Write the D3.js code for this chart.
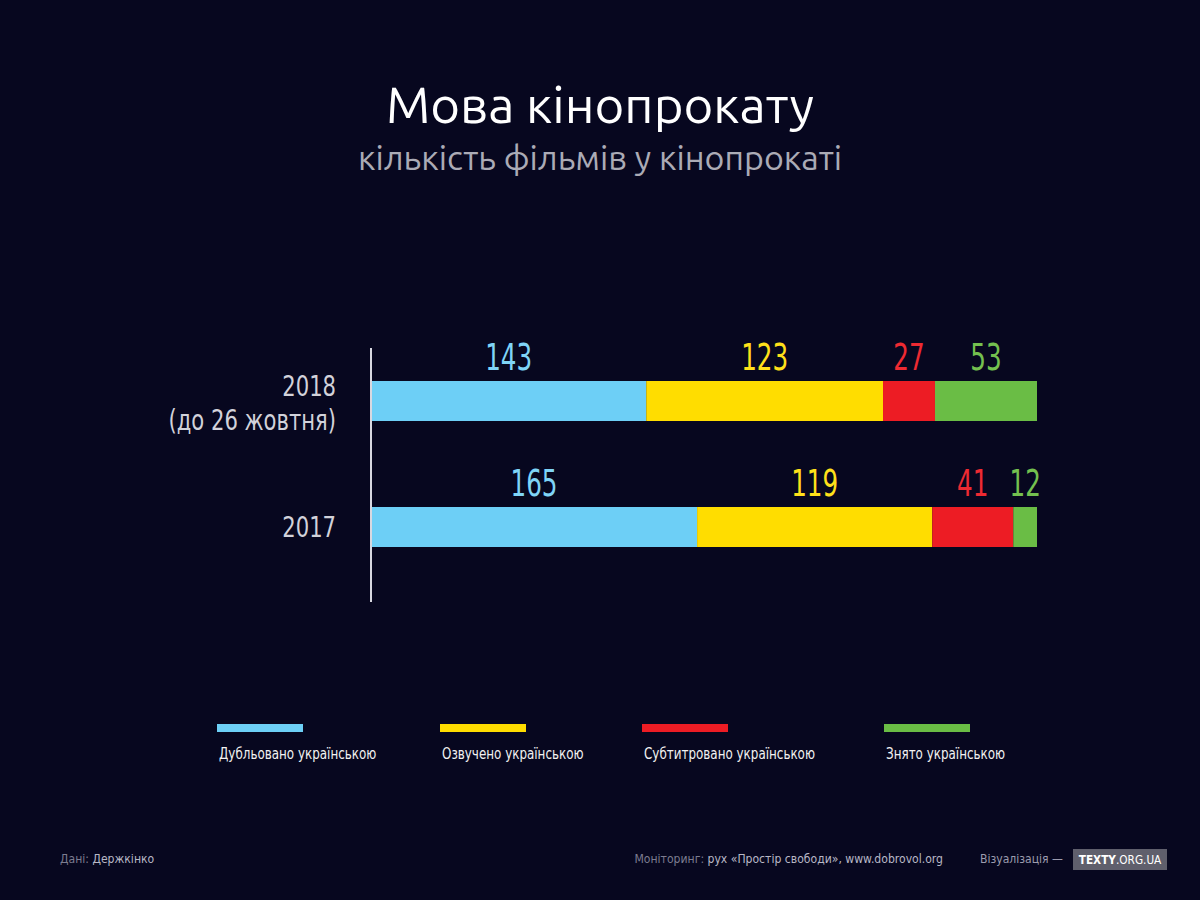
<!DOCTYPE html>
<html>
<head>
<meta charset="utf-8">
<script src="https://cdn.jsdelivr.net/npm/d3@7"></script>
<style>
  html, body { margin: 0; padding: 0; background: #07071f; }
  svg { display: block; }
</style>
</head>
<body>
<div id="chart"></div>
<script>
// Data
const years = ["2018", "2017"];
const yearNotes = ["(до 26 жовтня)", ""];
const seriesKeys = ["dub", "voice", "subs", "shot"];
const seriesNames = ["Дубльовано українською", "Озвучено українською", "Субтитровано українською", "Знято українською"];
const dubbed = [143, 165];
const voiced = [123, 119];
const subtitled = [27, 41];
const shot = [53, 12];

const colors = ["#6dcff6", "#ffdd00", "#ed1c24", "#6abd45"];
const labelColors = ["#7fd4f7", "#ffe01a", "#ee2a32", "#74c04f"];

const W = 1200, H = 900;
const condensed = "'DejaVu Sans Condensed', 'DejaVu Sans', sans-serif";
const sans = "Ubuntu, 'Noto Sans', 'Open Sans', sans-serif";

const rows = years.map((y, i) => ({
  year: y, note: yearNotes[i],
  dub: dubbed[i], voice: voiced[i], subs: subtitled[i], shot: shot[i]
}));

const svg = d3.select("#chart").append("svg")
  .attr("width", W).attr("height", H);

svg.append("rect").attr("width", W).attr("height", H).attr("fill", "#07071f");

//Squeezed text, the original uses a condensed face
function narrowText(sel, xf, yf, sx) {
  return sel.append("g")
    .attr("transform", (d, i) => `translate(${xf(d, i)},${yf(d, i)}) scale(${sx},1)`)
    .append("text")
    .style("font-family", condensed);
}

//Title
svg.append("text").attr("x", 600).attr("y", 123)
  .attr("text-anchor", "middle").attr("fill", "#ffffff")
  .style("font-family", sans).style("font-size", "51px")
  .text("Мова кінопрокату");
svg.append("text").attr("x", 600).attr("y", 170)
  .attr("text-anchor", "middle").attr("fill", "#ababb6")
  .style("font-family", sans).style("font-size", "34px")
  .text("кількість фільмів у кінопрокаті");

//Scales
const x = d3.scaleLinear().domain([0, 1]).range([371, 1037]);
const y = d3.scalePoint().domain(years).range([401, 527]);
const barH = 40;

const stacked = d3.stack().keys(seriesKeys).offset(d3.stackOffsetExpand)(rows);

const layers = svg.append("g").selectAll("g")
  .data(stacked).enter().append("g")
  .attr("fill", (d, i) => colors[i]);

layers.selectAll("rect")
  .data(d => d).enter().append("rect")
  .attr("x", d => x(d[0]))
  .attr("y", d => y(d.data.year) - barH / 2)
  .attr("width", d => x(d[1]) - x(d[0]))
  .attr("height", barH);

//Values above segments
const valGroups = svg.append("g").selectAll("g")
  .data(stacked).enter().append("g")
  .attr("fill", (d, i) => labelColors[i]);
narrowText(
  valGroups.selectAll("g").data(d => d.map(s => ({ s: s, key: d.key }))).enter(),
  d => (x(d.s[0]) + x(d.s[1])) / 2,
  d => y(d.s.data.year) - barH / 2 - 11,
  0.74)
  .attr("text-anchor", "middle")
  .style("font-size", "37px")
  .text(d => d.s.data[d.key]);

//Axis line
svg.append("line")
  .attr("x1", x(0)).attr("x2", x(0))
  .attr("y1", 348).attr("y2", 602)
  .attr("stroke", "#d8d8e0").attr("stroke-width", 2);

//Category labels
const catG = svg.append("g").attr("fill", "#d2d2da");
narrowText(catG.selectAll("g.yr").data(rows).enter(), () => 336,
  d => d.note ? y(d.year) - 5 : y(d.year) + 10, 0.81)
  .attr("text-anchor", "end")
  .style("font-size", "29px")
  .text(d => d.year);
narrowText(catG.selectAll("g.note").data(rows.filter(d => d.note)).enter(), () => 336,
  d => y(d.year) + 29, 0.81)
  .attr("text-anchor", "end")
  .style("font-size", "29px")
  .text(d => d.note);

//Legend
const legendX = d3.scaleOrdinal().domain(seriesKeys).range([217, 440, 642, 884]);
const legend = svg.append("g").selectAll("g")
  .data(seriesKeys).enter().append("g")
  .attr("transform", d => `translate(${legendX(d)},0)`);
legend.append("rect")
  .attr("x", 0).attr("y", 724).attr("width", 86).attr("height", 8)
  .attr("fill", (d, i) => colors[i]);
narrowText(legend, () => 2, () => 759, 0.83)
  .attr("fill", "#f2f2f2")
  .style("font-size", "16px")
  .text((d, i) => seriesNames[i]);

//Footer
const foot = svg.append("g");
const src = narrowText(foot, () => 60, () => 863, 0.93).style("font-size", "13px");
src.append("tspan").attr("fill", "#7c7c90").text("Дані: ");
src.append("tspan").attr("fill", "#b8b8c6").text("Держкінко");

const mon = narrowText(foot, () => 943, () => 863, 0.93)
  .style("font-size", "13px").attr("text-anchor", "end");
mon.append("tspan").attr("fill", "#7c7c90").text("Моніторинг: ");
mon.append("tspan").attr("fill", "#b8b8c6").text("рух «Простір свободи», www.dobrovol.org");

narrowText(foot, () => 1063, () => 863, 0.93)
  .style("font-size", "13px").attr("text-anchor", "end")
  .attr("fill", "#9c9cae").text("Візуалізація —");

foot.append("rect").attr("x", 1073).attr("y", 849).attr("width", 94).attr("height", 21)
  .attr("fill", "#5f5f6c");
const logo = narrowText(foot, () => 1120, () => 864, 0.9)
  .attr("text-anchor", "middle").attr("fill", "#ffffff").style("font-size", "13px");
logo.append("tspan").style("font-weight", "bold").text("TEXTY");
logo.append("tspan").text(".ORG.UA");
</script>
</body>
</html>
